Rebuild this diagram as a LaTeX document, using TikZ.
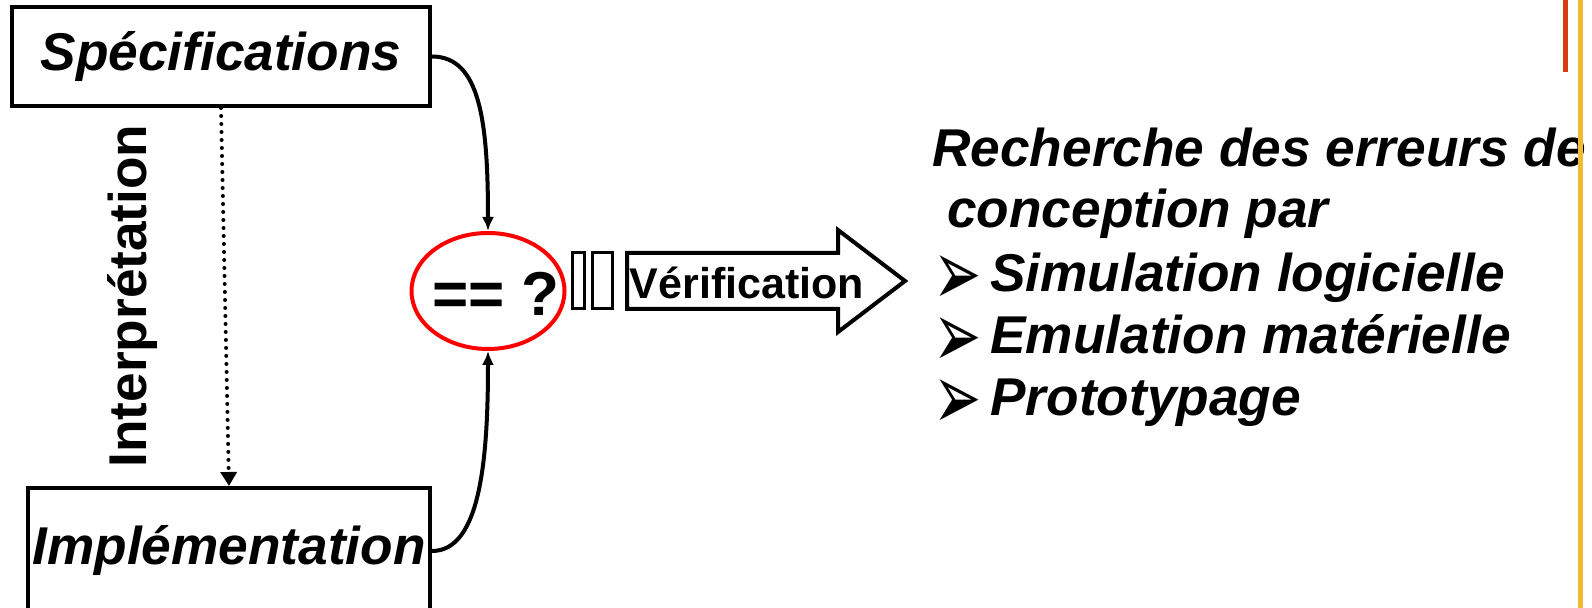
\documentclass[tikz,border=0pt]{standalone}
\usepackage{fontspec}
\setmainfont{Liberation Sans}
\newfontfamily\symfont{DejaVu Sans}
\usepackage{tikz}
\usetikzlibrary{arrows.meta}
\usetikzlibrary{shapes.geometric}
\definecolor{barred}{RGB}{214,62,18}
\definecolor{baryellow}{RGB}{238,188,52}
\tikzset{
  bigtext/.style={font=\fontsize{26.6}{31}\selectfont\bfseries\itshape, inner sep=0pt},
  bullet/.style={bigtext, anchor=base west},
  boxnode/.style={draw, line width=2pt, inner sep=0pt, bigtext},
  curvearrow/.style={line width=2pt, -{Latex[length=7pt,width=6pt]}}
}
\newcommand{\arrowbullet}{\makebox[28.5pt][l]{\smash{\raisebox{-7pt}{\scalebox{0.8}[1.3]{\symfont\fontsize{36}{40}\selectfont\upshape\mdseries ➢}}}}}

\begin{document}
\begin{tikzpicture}[x=0.5pt,y=-0.5pt]
\useasboundingbox (0,0) rectangle (1592,608);

                \node[boxnode, minimum width=209pt, minimum height=49.5pt] (S) at (221,56.5) {Spécifications};
                \node[boxnode, minimum width=201pt, minimum height=63pt] (I) at (229,551) {Implémentation};
                \node[rotate=90, font=\fontsize{26.6}{31}\selectfont\bfseries] (interp) at (133,296) {Interprétation};

                \node[shape=ellipse, draw=red, line width=2pt, minimum width=76.5pt, minimum height=58pt] (eq) at (488,291) {};
                \node[font=\fontsize{31}{36}\selectfont\bfseries] (eqtext) at (496,294) {== ?};

                \draw[line width=2pt, line cap=round, dash pattern=on 0pt off 4pt, -{Triangle[length=7pt,width=8pt]}] (S.south) -- (I.north);
                \draw[curvearrow] (S.east) .. controls +(48,0) and +(0,-110) .. (eq.north);
                \draw[curvearrow] (I.east) .. controls +(48,0) and +(0,110) .. (eq.south);

                \draw[line width=1.5pt] (572,253) rectangle (584,309);
                \draw[line width=1.5pt] (592,253) rectangle (612,309);
                \draw[line width=2pt] (627,253) -- (838,253) -- (838,230) -- (905,281) -- (838,332) -- (838,309) -- (627,309) -- cycle;
                \node[font=\fontsize{21.5}{26}\selectfont\bfseries] (verif) at (747,283) {Vérification};

                \node[bullet] (head1) at (932,167) {Recherche des erreurs de};
                \node[bullet] (head2) at (947,228) {conception par};
                \node[bullet] (b1) at (933,292) {\arrowbullet Simulation logicielle};
                \node[bullet] (b2) at (933,354) {\arrowbullet Emulation matérielle};
                \node[bullet] (b3) at (933,416) {\arrowbullet Prototypage};

                \fill[barred] (1563,0) rectangle (1568,72);
                \fill[baryellow] (1578,0) rectangle (1583,608);

            \end{tikzpicture}
\end{document}
